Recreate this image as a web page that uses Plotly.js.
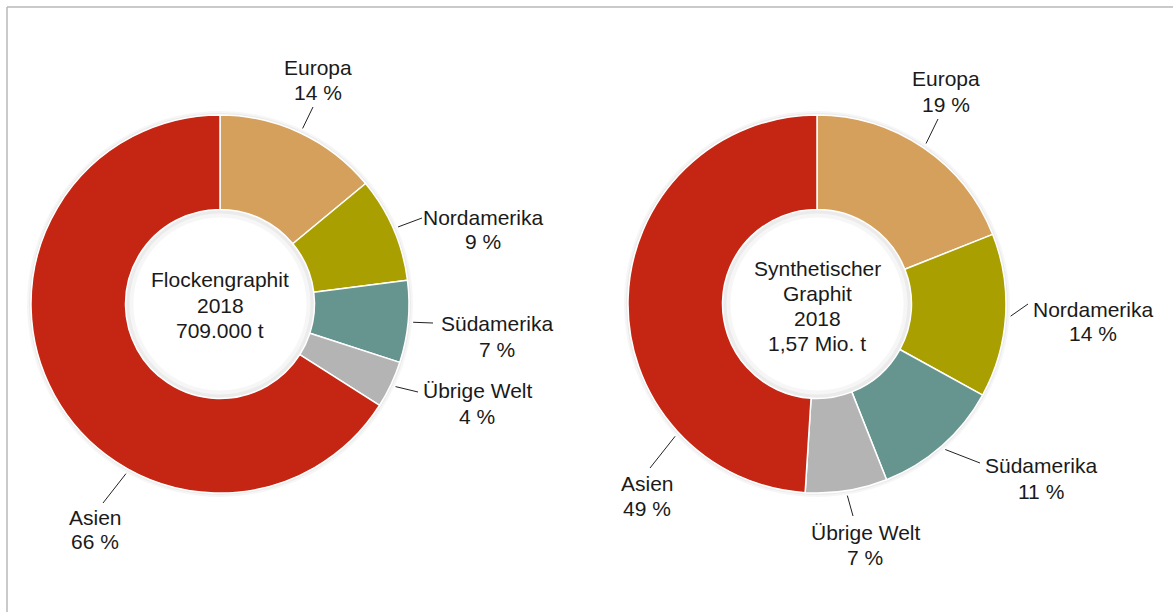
<!DOCTYPE html>
<html>
<head>
<meta charset="utf-8">
<script src="https://cdn.plot.ly/plotly-3.0.1.min.js"></script>
<style>html,body{margin:0;padding:0;background:#fff;}#chart{width:1173px;height:612px;}</style>
</head>
<body>
<div id="chart"></div>
<script>
// ---- data ----
const regions = ['Europa', 'Nordamerika', 'Südamerika', 'Übrige Welt', 'Asien'];
const flockShares = [14, 9, 7, 4, 66];
const synthShares = [19, 14, 11, 7, 49];
const regionColors = ['#D4A05B', '#A99F00', '#66958F', '#B4B4B4', '#C42613'];
const flockCenterText = ['Flockengraphit', '2018', '709.000 t'];
const synthCenterText = ['Synthetischer', 'Graphit', '2018', '1,57 Mio. t'];

// ---- layout helpers (pixels -> paper) ----
const W = 1173, H = 612;
const px = x => x / W;
const py = y => 1 - y / H;
const FONT = 'Arial, "Liberation Sans", sans-serif';
const TXT = '#1a1a1a';

const charts = [
  {
    values: flockShares, center: flockCenterText, cx: 220, cy: 304, r: 189,
    centerY: [280, 305.5, 330],
    labelPos: [[318, 67, 92], [483, 217, 242], [497, 323, 349], [477, 391, 416], [95, 517, 541]],
    lineEnd: [[313, 107], [422, 218], [433, 323], [418, 392], [103, 503]],
    angleOverride: {4: 209}
  },
  {
    values: synthShares, center: synthCenterText, cx: 817, cy: 304, r: 189,
    centerY: [268, 293, 318, 343],
    labelPos: [[946, 78, 104], [1093, 309, 334], [1041, 465, 491], [865, 532, 557], [647, 483, 508]],
    lineEnd: [[938, 119], [1028, 304], [980, 463], [853, 516], [650, 468]],
    angleOverride: {4: 227}
  }
];

const traces = [];
const annotations = [];
const shapes = [];

charts.forEach(c => {
  // soft shadow rings (two layers for a gentle falloff)
  [[4, 8, 0.035], [2, 4, 0.045]].forEach(([out, inn, a]) => {
    const sr = c.r + out;
    traces.push({
      type: 'pie', values: [1], labels: ['s'], sort: false, hole: (c.r * 0.5 - inn) / sr,
      marker: {colors: ['rgba(0,0,0,' + a + ')'], line: {width: 0}},
      textinfo: 'none', hoverinfo: 'skip', showlegend: false,
      domain: {x: [px(c.cx - sr), px(c.cx + sr)], y: [py(c.cy + sr), py(c.cy - sr)]}
    });
  });
  traces.push({
    type: 'pie', values: c.values, labels: regions, sort: false, direction: 'clockwise', rotation: 0,
    hole: 0.5,
    marker: {colors: regionColors, line: {color: '#ffffff', width: 1.5}},
    textinfo: 'none', hoverinfo: 'label+percent', showlegend: false,
    domain: {x: [px(c.cx - c.r), px(c.cx + c.r)], y: [py(c.cy + c.r), py(c.cy - c.r)]}
  });
  // center text
  c.center.forEach((t, i) => {
    annotations.push({text: t, x: px(c.cx), y: py(c.centerY[i]), xref: 'paper', yref: 'paper',
      showarrow: false, xanchor: 'center', yanchor: 'middle', font: {family: FONT, size: 21, color: TXT}});
  });
  // labels + leader lines
  const total = c.values.reduce((a, b) => a + b, 0);
  let cum = 0;
  c.values.forEach((v, i) => {
    let mid = (cum + v / 2) / total * 360;
    cum += v;
    if (c.angleOverride[i] !== undefined) mid = c.angleOverride[i];
    const rad = mid * Math.PI / 180;
    const r0 = c.r + 5;
    const x0 = c.cx + r0 * Math.sin(rad), y0 = c.cy - r0 * Math.cos(rad);
    const [x1, y1] = c.lineEnd[i];
    shapes.push({type: 'line', xref: 'paper', yref: 'paper', x0: px(x0), y0: py(y0), x1: px(x1), y1: py(y1),
      line: {color: '#222', width: 1}});
    const [lx, ly1, ly2] = c.labelPos[i];
    annotations.push({text: regions[i], x: px(lx), y: py(ly1), xref: 'paper', yref: 'paper', showarrow: false,
      xanchor: 'center', yanchor: 'middle', font: {family: FONT, size: 21, color: TXT}});
    annotations.push({text: v + ' %', x: px(lx), y: py(ly2), xref: 'paper', yref: 'paper', showarrow: false,
      xanchor: 'center', yanchor: 'middle', font: {family: FONT, size: 21, color: TXT}});
  });
});

// frame lines (top and left)
shapes.push({type: 'line', xref: 'paper', yref: 'paper', x0: px(7), y0: py(7), x1: 1.01, y1: py(7), line: {color: '#b8b8b8', width: 1.5}});
shapes.push({type: 'line', xref: 'paper', yref: 'paper', x0: px(7), y0: py(7), x1: px(7), y1: -0.01, line: {color: '#b8b8b8', width: 1.5}});

const layout = {
  width: W, height: H,
  margin: {l: 0, r: 0, t: 0, b: 0},
  paper_bgcolor: '#ffffff', plot_bgcolor: '#ffffff',
  showlegend: false,
  annotations: annotations,
  shapes: shapes
};

Plotly.newPlot('chart', traces, layout, {displayModeBar: false, staticPlot: true});
</script>
</body>
</html>
